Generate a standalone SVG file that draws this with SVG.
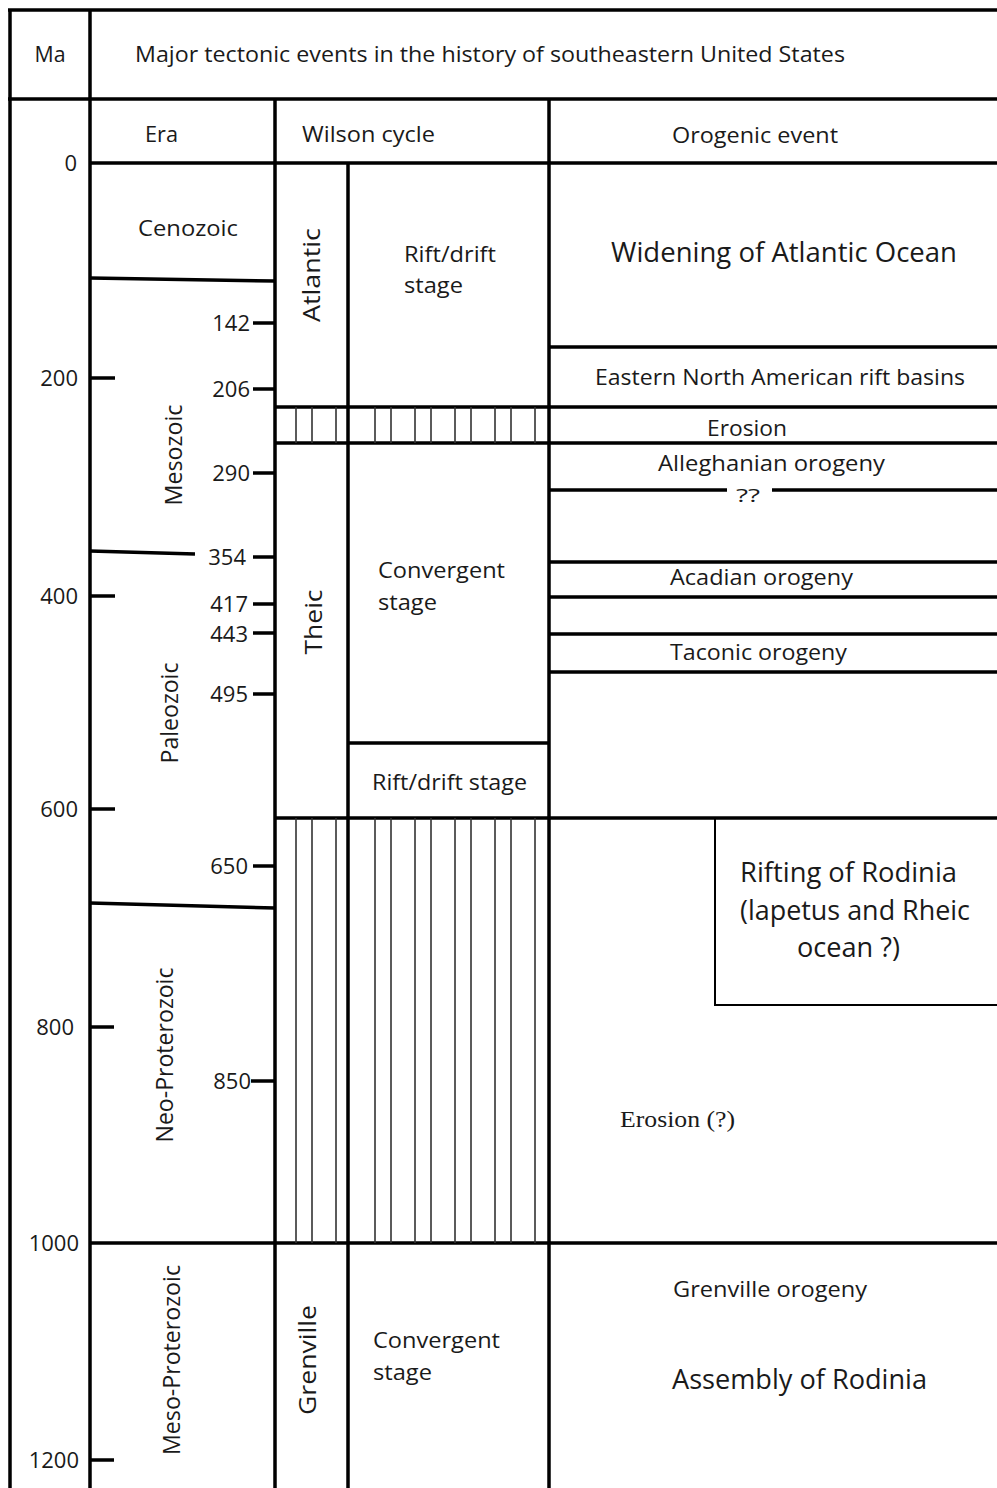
<svg xmlns="http://www.w3.org/2000/svg" width="997" height="1488" viewBox="0 0 997 1488">
<style>
.ln{stroke:#000;stroke-width:3.5;fill:none;stroke-linecap:butt}
.tk{stroke:#000;stroke-width:3.5;fill:none}
.th{stroke:#000;stroke-width:2;fill:none}
.ht{stroke:#333;stroke-width:1.6;fill:none}
text{font-family:"Open Sans","Noto Sans","Liberation Sans",sans-serif;fill:#1a1a1a;font-size:22px}
.big{font-size:28px}
.rot{font-size:23px;text-anchor:middle}
.num{text-anchor:end;font-size:22px}
.serif{font-family:"Liberation Serif","Times New Roman",serif;font-size:23px}
.q{font-size:19px}
</style>
<rect x="0" y="0" width="997" height="1488" fill="#fff"/>
<g id="grid">
<path class="ln" d="M10 10V1488M90 10V1488M275 99V1488M348 163V1488M549 99V1488"/>
<path class="ln" d="M8 10H997M8 99H997M90 163H997M90 1243H997"/>
<path class="ln" d="M90 278L275 281M90 551L195 554M90 903L275 908"/>
<path class="ln" d="M549 347H997M275 407H997M275 443H997M549 490H727M772 490H997M549 562H997M549 597H997M549 634H997M549 672H997M348 743H549M275 818H997"/>
<path class="th" d="M715 818V1005H997"/>
</g>
<g id="hatch">
<path class="ht" d="M296 407V443M312 407V443M336 407V443M375 407V443M391 407V443M415 407V443M431 407V443M455 407V443M471 407V443M495 407V443M511 407V443M535 407V443"/>
<path class="ht" d="M296 818V1243M312 818V1243M336 818V1243M375 818V1243M391 818V1243M415 818V1243M431 818V1243M455 818V1243M471 818V1243M495 818V1243M511 818V1243M535 818V1243"/>
</g>
<g id="ticks">
<path class="tk" d="M90 378H115M90 596H115M90 809H115M90 1027H114M90 1460H114"/>
<path class="tk" d="M253 323H275M253 389H275M253 473H275M253 557H275M253 604H275M253 633H275M253 694H275M253 866H275M251 1081H275"/>
</g>
<g id="ma-labels">
<text class="num" x="77" y="171">0</text>
<text class="num" x="78" y="386">200</text>
<text class="num" x="78" y="604">400</text>
<text class="num" x="78" y="817">600</text>
<text class="num" x="74" y="1035">800</text>
<text class="num" x="79" y="1251">1000</text>
<text class="num" x="79" y="1468">1200</text>
</g>
<g id="age-labels">
<text class="num" x="250" y="331">142</text>
<text class="num" x="250" y="397">206</text>
<text class="num" x="250" y="481">290</text>
<text class="num" x="246" y="565">354</text>
<text class="num" x="248" y="612">417</text>
<text class="num" x="248" y="642">443</text>
<text class="num" x="248" y="702">495</text>
<text class="num" x="248" y="874">650</text>
<text class="num" x="251" y="1089">850</text>
</g>
<g id="header">
<text x="50" y="62" text-anchor="middle" textLength="31" lengthAdjust="spacingAndGlyphs">Ma</text>
<text x="135" y="62" textLength="710" lengthAdjust="spacingAndGlyphs">Major tectonic events in the history of southeastern United States</text>
<text x="145" y="142" textLength="33" lengthAdjust="spacingAndGlyphs">Era</text>
<text x="302" y="142" textLength="133" lengthAdjust="spacingAndGlyphs">Wilson cycle</text>
<text x="672" y="143" textLength="166" lengthAdjust="spacingAndGlyphs">Orogenic event</text>
</g>
<g id="eras">
<text x="138" y="236" textLength="100" lengthAdjust="spacingAndGlyphs">Cenozoic</text>
<text class="rot" transform="translate(182,455) rotate(-90)" textLength="101" lengthAdjust="spacingAndGlyphs">Mesozoic</text>
<text class="rot" transform="translate(178,713) rotate(-90)" textLength="101" lengthAdjust="spacingAndGlyphs">Paleozoic</text>
<text class="rot" transform="translate(173,1055) rotate(-90)" textLength="175" lengthAdjust="spacingAndGlyphs">Neo-Proterozoic</text>
<text class="rot" transform="translate(180,1360) rotate(-90)" textLength="190" lengthAdjust="spacingAndGlyphs">Meso-Proterozoic</text>
</g>
<g id="wilson">
<text class="rot" transform="translate(320,275) rotate(-90)" textLength="94" lengthAdjust="spacingAndGlyphs">Atlantic</text>
<text class="rot" transform="translate(322,622) rotate(-90)" textLength="65" lengthAdjust="spacingAndGlyphs">Theic</text>
<text class="rot" transform="translate(316,1360) rotate(-90)" textLength="110" lengthAdjust="spacingAndGlyphs">Grenville</text>
<text x="404" y="262" textLength="92" lengthAdjust="spacingAndGlyphs">Rift/drift</text>
<text x="404" y="293" textLength="59" lengthAdjust="spacingAndGlyphs">stage</text>
<text x="378" y="578" textLength="127" lengthAdjust="spacingAndGlyphs">Convergent</text>
<text x="378" y="610" textLength="59" lengthAdjust="spacingAndGlyphs">stage</text>
<text x="372" y="790" textLength="155" lengthAdjust="spacingAndGlyphs">Rift/drift stage</text>
<text x="373" y="1348" textLength="127" lengthAdjust="spacingAndGlyphs">Convergent</text>
<text x="373" y="1380" textLength="59" lengthAdjust="spacingAndGlyphs">stage</text>
</g>
<g id="events">
<text class="big" x="611" y="262" textLength="346" lengthAdjust="spacingAndGlyphs">Widening of Atlantic Ocean</text>
<text x="595" y="385" textLength="370" lengthAdjust="spacingAndGlyphs">Eastern North American rift basins</text>
<text x="707" y="436" textLength="80" lengthAdjust="spacingAndGlyphs">Erosion</text>
<text x="658" y="471" textLength="227" lengthAdjust="spacingAndGlyphs">Alleghanian orogeny</text>
<text class="q" x="748" y="502" text-anchor="middle" textLength="24" lengthAdjust="spacingAndGlyphs">??</text>
<text x="670" y="585" textLength="183" lengthAdjust="spacingAndGlyphs">Acadian orogeny</text>
<text x="670" y="660" textLength="177" lengthAdjust="spacingAndGlyphs">Taconic orogeny</text>
<text class="big" x="740" y="882" textLength="217" lengthAdjust="spacingAndGlyphs">Rifting of Rodinia</text>
<text class="big" x="740" y="920" textLength="230" lengthAdjust="spacingAndGlyphs">(lapetus and Rheic</text>
<text class="big" x="797" y="957" textLength="103" lengthAdjust="spacingAndGlyphs">ocean ?)</text>
<text class="serif" x="620" y="1127" textLength="115" lengthAdjust="spacingAndGlyphs">Erosion (?)</text>
<text x="673" y="1297" textLength="194" lengthAdjust="spacingAndGlyphs">Grenville orogeny</text>
<text class="big" x="672" y="1389" textLength="255" lengthAdjust="spacingAndGlyphs">Assembly of Rodinia</text>
</g>
</svg>
